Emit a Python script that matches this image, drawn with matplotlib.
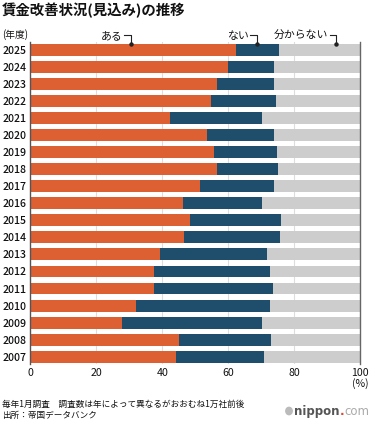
import numpy as np
import matplotlib
matplotlib.use("Agg")
import matplotlib.pyplot as plt

# ---------------- Data ----------------
years = [2007, 2008, 2009, 2010, 2011, 2012, 2013, 2014, 2015, 2016,
         2017, 2018, 2019, 2020, 2021, 2022, 2023, 2024, 2025]
aru = [44.1, 45.1, 27.9, 31.9, 37.6, 37.5, 39.3, 46.6, 48.4, 46.4,
       51.4, 56.6, 55.6, 53.5, 42.2, 54.8, 56.6, 60.0, 62.2]
nai = [26.6, 27.8, 42.3, 40.6, 35.9, 35.2, 32.4, 29.0, 27.5, 23.9,
       22.5, 18.4, 19.2, 20.2, 28.1, 19.6, 17.3, 13.8, 13.3]
wakaranai = [29.3, 27.1, 29.8, 27.5, 26.5, 27.3, 28.3, 24.4, 24.1, 29.7,
             26.1, 25.0, 25.2, 26.3, 29.7, 25.6, 26.1, 26.2, 24.5]
series_labels = ["ある", "ない", "分からない"]
xticks = [0, 20, 40, 60, 80, 100]

# ---------------- Style ----------------
plt.rcParams["font.family"] = ["Noto Sans CJK JP", "DejaVu Sans"]
C_ORANGE = "#DC6032"
C_NAVY = "#1E4E6C"
C_GRAY = "#CDCDCD"
TXT = "#111111"

fig = plt.figure(figsize=(3.70, 4.23), dpi=100)
ax = fig.add_axes([0.0819, 0.1395, 0.8919, 0.7612])

y = np.arange(len(years))
aru_a = np.array(aru)
nai_a = np.array(nai)
wak_a = np.array(wakaranai)
h = 0.70
ax.barh(y, aru_a, height=h, color=C_ORANGE, zorder=2)
ax.barh(y, nai_a, left=aru_a, height=h, color=C_NAVY, zorder=2)
ax.barh(y, wak_a, left=aru_a + nai_a, height=h, color=C_GRAY, zorder=2)

ax.set_xlim(0, 100)
ax.set_ylim(-0.43, len(years) - 1 + 0.47)

# light vertical grid behind the bars
for xv in xticks[1:-1]:
    ax.axvline(xv, color="#DDDDDD", lw=0.8, zorder=0)

for s in ["top", "bottom"]:
    ax.spines[s].set_visible(False)
ax.spines["left"].set_color("#555555")
ax.spines["left"].set_linewidth(1.0)
ax.spines["right"].set_color("#666666")
ax.spines["right"].set_linewidth(1.0)

ax.set_xticks(xticks)
ax.set_xticklabels([str(v) for v in xticks], fontsize=7.6, color=TXT)
ax.set_yticks(y)
ax.set_yticklabels([str(v) for v in years], fontsize=7.6, color=TXT,
                   fontweight="medium")
ax.tick_params(length=0)
ax.tick_params(axis="x", pad=3)
ax.tick_params(axis="y", pad=3)

ax.text(100, -1.6, "(%)", ha="center", va="center", fontsize=7.6,
        color=TXT, clip_on=False)

# legend labels with small brackets pointing at the top bar
top = len(years) - 1
dot_x = [30.5, 68.6, 92.7]
y_dot = top + h / 2
y_br = top + 0.88
for lab, dx in zip(series_labels, dot_x):
    ax.plot([dx - 2.0, dx, dx], [y_br, y_br, y_dot], color="#222222",
            lw=0.8, clip_on=False, zorder=5)
    ax.plot([dx], [y_dot], "o", ms=2.2, color="#222222", clip_on=False,
            zorder=5)
    ax.text(dx - 2.4, y_br - 0.08, lab, ha="right", va="center",
            fontsize=7.8, color=TXT, clip_on=False)

# titles / notes
fig.text(0.005, 0.976, "賃金改善状況(見込み)の推移", fontsize=10.4,
         fontweight="bold", color=TXT, ha="left", va="center")
fig.text(0.005, 0.918, "(年度)", fontsize=7.0, color=TXT,
         ha="left", va="center")
fig.text(0.005, 0.043, "毎年1月調査　調査数は年によって異なるがおおむね1万社前後",
         fontsize=6.2, color=TXT, ha="left", va="center")
fig.text(0.005, 0.017, "出所：帝国データバンク", fontsize=6.2, color=TXT,
         ha="left", va="center")

# nippon.com logo
renderer = fig.canvas.get_renderer()
fig.patches.append(plt.Circle((289 / 370, 12 / 423), 3.2 / 370,
                              transform=fig.transFigure, color="#BBBBBB"))
x0 = 294 / 370
yl = 12 / 423
parts = [("nippon", "#555555", "bold"), (".", "#E0452E", "bold"),
         ("com", "#AAAAAA", "normal")]
for txt, col, wt in parts:
    t = fig.text(x0, yl, txt, fontsize=8.5, color=col, fontweight=wt,
                 ha="left", va="center", family="DejaVu Sans")
    bb = t.get_window_extent(renderer)
    x0 = bb.x1 / fig.bbox.width

fig.savefig("out.png", dpi=100)
